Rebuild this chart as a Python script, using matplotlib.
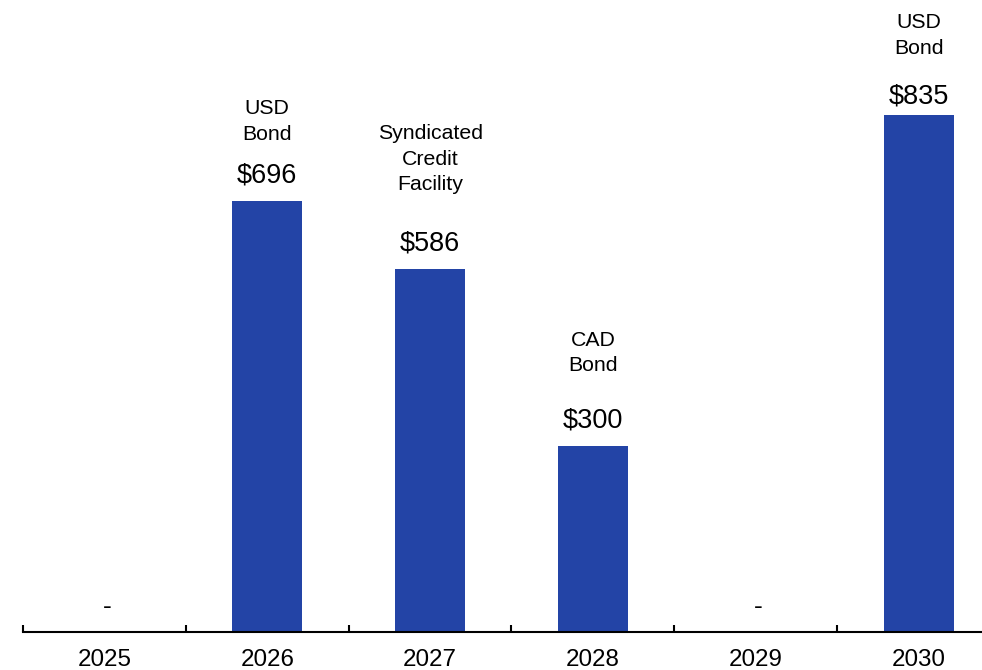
import matplotlib
matplotlib.use("Agg")
from matplotlib import pyplot as plt
from matplotlib.ticker import FixedLocator

plt.rcParams['font.family'] = ['Liberation Sans', 'DejaVu Sans']

years = ["2025", "2026", "2027", "2028", "2029", "2030"]
amounts = [0, 696, 586, 300, 0, 835]
notes = ["", "USD\nBond", "Syndicated\nCredit\nFacility", "CAD\nBond", "", "USD\nBond"]

bar_color = "#2344A6"
note_gap = [0, 41, 54, 51, 0, 41]   # points above the bar top (bottom of note)
value_gap = [0, 9, 9, 9, 0, 4]

fig = plt.figure(figsize=(9.82, 6.70), dpi=100)
ax = fig.add_axes([23 / 982, 38 / 670, 977 / 982, 619 / 670])

x = list(range(len(years)))
ax.bar(x, amounts, width=0.43, color=bar_color)

for i, v in enumerate(amounts):
    if v == 0:
        ax.annotate("-", (i, 0), xytext=(2, 18), textcoords="offset points",
                    ha="center", va="center", fontsize=19)
        continue
    ax.annotate("$%d" % v, (i, v), xytext=(0, value_gap[i]), textcoords="offset points",
                ha="center", va="bottom", fontsize=19.5)
    ax.annotate(notes[i], (i, v), xytext=(0, note_gap[i]), textcoords="offset points",
                ha="center", va="bottom", fontsize=15.3, linespacing=1.45)

ax.set_xlim(-0.5, 5.5)
ax.set_ylim(0, 1000)
ax.set_xticks(x)
ax.set_xticklabels(years, fontsize=17.4)
ax.xaxis.set_minor_locator(FixedLocator([i - 0.5 for i in range(len(years) + 1)]))
ax.tick_params(axis="x", which="major", length=0, pad=12)
ax.tick_params(axis="x", which="minor", direction="in", length=5, width=1.5)
ax.set_yticks([])
for s in ["top", "right", "left"]:
    ax.spines[s].set_visible(False)
ax.spines["bottom"].set_linewidth(1.5)

fig.savefig("out.png", dpi=100)
